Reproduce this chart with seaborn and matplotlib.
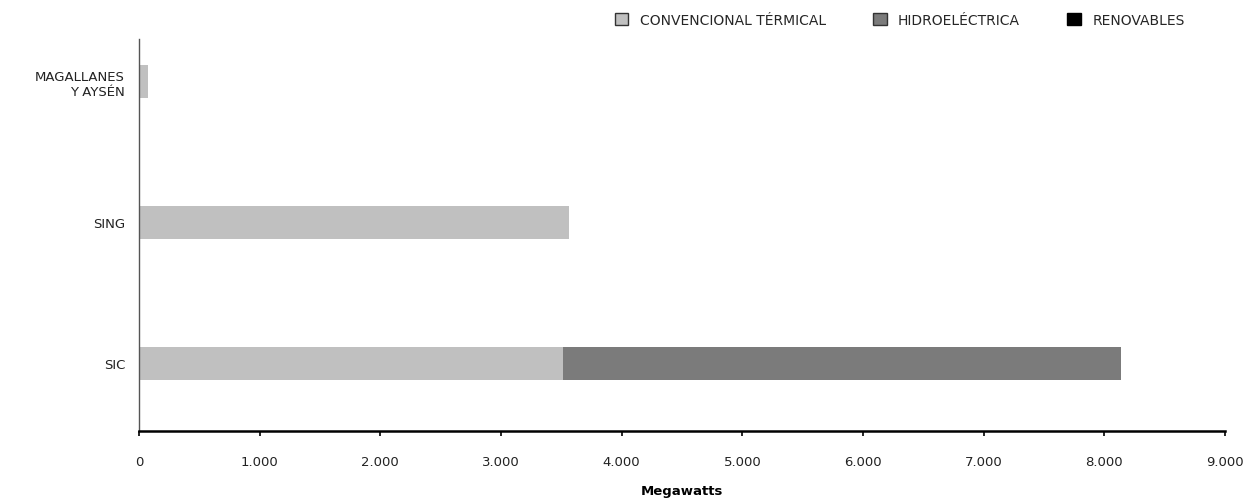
import matplotlib
matplotlib.use("Agg")
import matplotlib.pyplot as plt
from matplotlib.patches import Patch
from matplotlib.ticker import FuncFormatter
import numpy as np
import pandas as pd
import seaborn as sns

# Installed capacity by electrical system (MW)
systems = ["MAGALLANES\nY AYSÉN", "SING", "SIC"]
termica = [72, 3566, 3514]
hidro = [0, 0, 4624]
renovables = [0, 0, 0]
series_names = ["CONVENCIONAL TÉRMICAL", "HIDROELÉCTRICA", "RENOVABLES"]
series_colors = ["#c0c0c0", "#7b7b7b", "#000000"]
x_ticks = [0, 1000, 2000, 3000, 4000, 5000, 6000, 7000, 8000, 9000]

sns.set_theme(style="white")
plt.rcParams["font.family"] = ["DejaVu Sans"]

df = pd.DataFrame({"system": systems, "termica": termica,
                   "hidro": hidro, "renovables": renovables})
df["c1"] = df["termica"]
df["c2"] = df["c1"] + df["hidro"]
df["c3"] = df["c2"] + df["renovables"]

fig = plt.figure(figsize=(12.51, 5.02), dpi=100)
ax = fig.add_axes([139 / 1251, 1 - 432 / 502, (1225 - 139) / 1251, (432 - 40) / 502])

# Stacked bars: draw cumulative totals from the back to the front
for col, color in zip(["c3", "c2", "c1"], series_colors[::-1]):
    sns.barplot(data=df, y="system", x=col, orient="h", color=color,
                width=0.235, saturation=1, linewidth=0, ax=ax)

ax.set_xlim(0, 9000)
ax.set_ylim(2.48, -0.3)
ax.set_xticks(x_ticks)
ax.xaxis.set_major_formatter(FuncFormatter(lambda v, p: f"{int(v):,}".replace(",", ".")))
ax.tick_params(axis="x", direction="out", length=3.6, width=1.2, color="black",
               pad=14, labelsize=9.5, labelcolor="#222222", bottom=True)
ax.tick_params(axis="y", length=0, pad=10, labelsize=9.5, labelcolor="#222222")
for lbl in ax.get_yticklabels():
    lbl.set_horizontalalignment("right")
    lbl.set_multialignment("right")

ax.set_ylabel("")
ax.set_xlabel("Megawatts", fontsize=9.5, fontweight="bold", color="black", labelpad=11)

for side in ["top", "right"]:
    ax.spines[side].set_visible(False)
ax.spines["bottom"].set_color("black")
ax.spines["bottom"].set_linewidth(1.8)
ax.spines["left"].set_color("#555555")
ax.spines["left"].set_linewidth(1.0)

handles = [Patch(facecolor=c, edgecolor="#333333" if i < 2 else "black", linewidth=1)
           for i, c in enumerate(series_colors)]
fig.legend(handles, series_names, loc="upper right", bbox_to_anchor=(1197 / 1251, 0.998),
           ncol=3, frameon=False, fontsize=10, handlelength=1.0, handleheight=1.0,
           handletextpad=0.8, columnspacing=3.4)

fig.savefig("out.png", dpi=100)
